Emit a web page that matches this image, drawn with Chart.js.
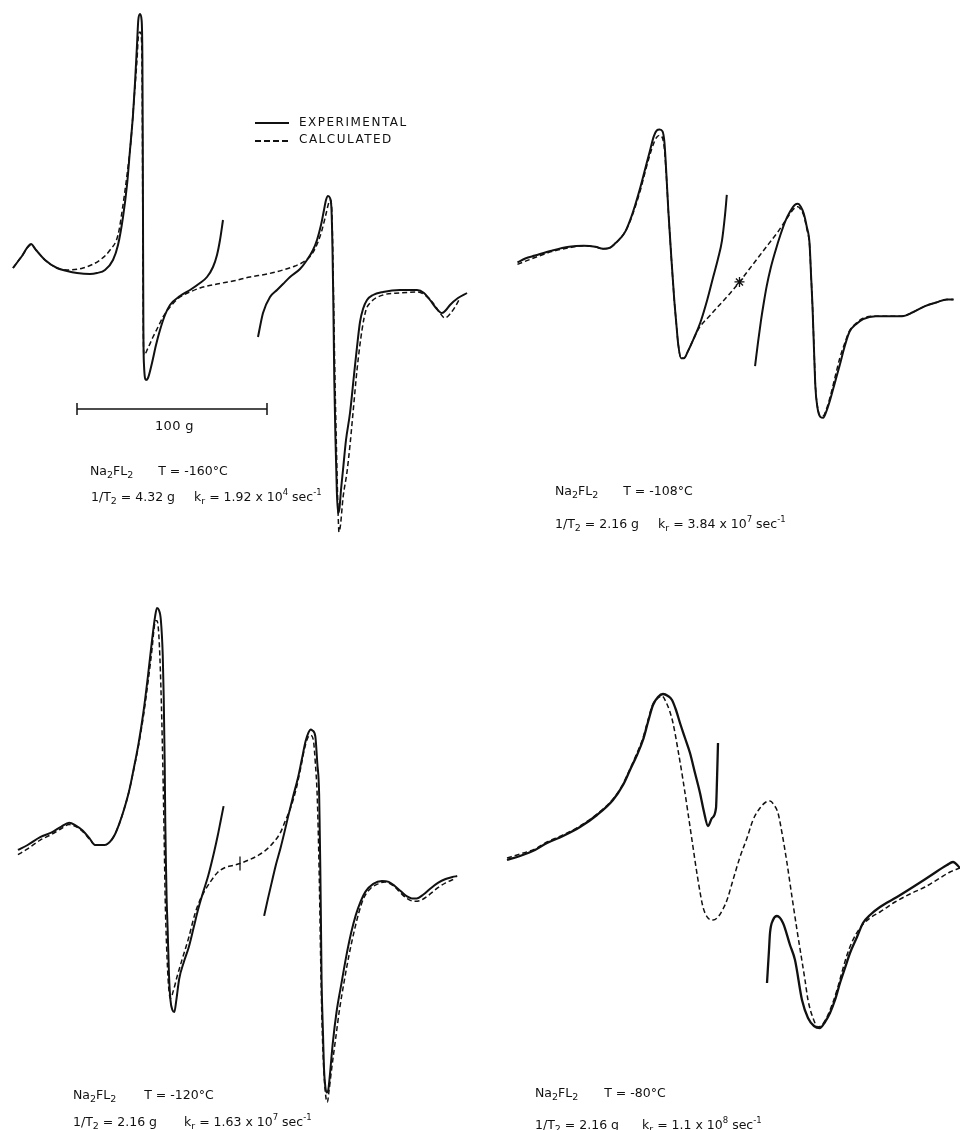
<!DOCTYPE html>
<html>
<head>
<meta charset="utf-8">
<script src="https://cdn.jsdelivr.net/npm/chart.js@4.4.0/dist/chart.umd.min.js"></script>
<style>
    body { margin: 0; background: #fff; }
    #page { position: relative; width: 960px; height: 1130px; overflow: hidden;
            font-family: "DejaVu Sans", sans-serif; color: #111; }
    canvas { position: absolute; }
    .lbl { position: absolute; font-size: 12.5px; line-height: 16px; white-space: nowrap; }
    .lbl sub { font-size: 9.5px; vertical-align: -3px; }
    .lbl sup { font-size: 8.5px; vertical-align: 6px; }
    .gap { display: inline-block; }
    .key { position: absolute; width: 34px; height: 2px; }
    .caps { font-size: 12px; letter-spacing: 1.5px; }
</style>
</head>
<body>
<div id="page">
    <canvas id="c1" width="480" height="560" style="left:0;top:0"></canvas>
    <canvas id="c2" width="480" height="560" style="left:480px;top:0"></canvas>
    <canvas id="c3" width="480" height="570" style="left:0;top:560px"></canvas>
    <canvas id="c4" width="480" height="570" style="left:480px;top:560px"></canvas>

    <!-- legend -->
    <div class="key" style="left:255px;top:122px;background:#111"></div>
    <div class="lbl caps" style="left:299px;top:114px">EXPERIMENTAL</div>
    <div class="key" style="left:255px;top:140px;background:repeating-linear-gradient(90deg,#111 0 6px,transparent 6px 9px)"></div>
    <div class="lbl caps" style="left:299px;top:131px">CALCULATED</div>

    <div class="lbl" style="left:155px;top:418px;font-size:13px;letter-spacing:0.3px">100 g</div>

    <div class="lbl" style="left:90px;top:463px">Na<sub>2</sub>FL<sub>2</sub><span class="gap" style="width:25px"></span>T = -160°C</div>
    <div class="lbl" style="left:91px;top:484px">1/T<sub>2</sub> = 4.32 g<span class="gap" style="width:19px"></span>k<sub>r</sub> = 1.92 x 10<sup>4</sup> sec<sup>-1</sup></div>

    <div class="lbl" style="left:555px;top:483px">Na<sub>2</sub>FL<sub>2</sub><span class="gap" style="width:25px"></span>T = -108°C</div>
    <div class="lbl" style="left:555px;top:511px">1/T<sub>2</sub> = 2.16 g<span class="gap" style="width:19px"></span>k<sub>r</sub> = 3.84 x 10<sup>7</sup> sec<sup>-1</sup></div>

    <div class="lbl" style="left:73px;top:1087px">Na<sub>2</sub>FL<sub>2</sub><span class="gap" style="width:28px"></span>T = -120°C</div>
    <div class="lbl" style="left:73px;top:1109px">1/T<sub>2</sub> = 2.16 g<span class="gap" style="width:27px"></span>k<sub>r</sub> = 1.63 x 10<sup>7</sup> sec<sup>-1</sup></div>

    <div class="lbl" style="left:535px;top:1085px">Na<sub>2</sub>FL<sub>2</sub><span class="gap" style="width:26px"></span>T = -80°C</div>
    <div class="lbl" style="left:535px;top:1112px">1/T<sub>2</sub> = 2.16 g<span class="gap" style="width:23px"></span>k<sub>r</sub> = 1.1 x 10<sup>8</sup> sec<sup>-1</sup></div>
</div>

<script>
// values: x = field position, y = signal (panel units)

// T = -160 C
const p1Exp1 = [[13,292],[22,304],[31,316],[36,310],[45,300],[57,292],[67,289],[77,287],[90,286],[97,287],
    [105,290],[113,300],[118,315],[123,343],[127,375],[130,410],[133,445],[135,477],[137,515],[138.3,540],
    [140,546],[141.6,540],[142.4,500],[142.8,410],[143.1,310],[143.4,230],[144,195],[146,180],[148,182],
    [152,197],[156,215],[160,230],[165,245],[170,255],[180,264],[190,270],[200,277],[207,283],[213,293],
    [217,305],[220,320],[223,340]];
const p1Exp2 = [[258,223],[263,247],[270,263],[277,270],[283,276],[290,283],[300,291],[307,300],[313,310],
    [317,320],[321,335],[324,350],[326,360],[328,364],[330,362],[331.5,350],[332.5,310],[333.3,260],
    [334.3,180],[335.5,120],[336.8,70],[338,47],[339.5,52],[341,70],[343,90],[346,120],[350,147],[354,185],
    [357,213],[360,238],[363,251],[367,260],[373,265],[383,268],[400,270],[417,270],[424,267],[430,260],
    [436,252],[442,247],[446,250],[450,255],[458,262],[467,267]];
const p1Calc = [[13,292],[22,304],[31,315],[36,310],[45,300],[57,292],[67,290],[83,292],[100,300],[110,310],
    [118,325],[123,355],[127,385],[131,420],[134,460],[137,500],[138.5,525],[140,528],[141.5,520],
    [142.2,470],[142.6,380],[143,290],[143.4,220],[144,205],[148,212],[153,223],[158,233],[163,243],
    [170,253],[180,263],[190,268],[200,272],[217,276],[233,279],[250,283],[267,286],[283,290],[295,294],
    [305,299],[312,306],[318,318],[322,330],[326,346],[329,358],[330.5,360],[331.7,352],[332.6,320],
    [333.6,260],[335,180],[336.5,110],[338,50],[339,28],[340.5,35],[343,62],[347,88],[350,115],[353,147],
    [357,190],[362,230],[366,250],[370,257],[383,265],[400,267],[417,268],[425,265],[433,257],[440,247],
    [445,242],[450,246],[455,253],[460,262]];
const p1ScaleBar = [[77,151],[267,151]];

// T = -108 C
const p2Exp1 = [[32,298],[40,302],[50,305],[67,310],[85,314],[100,315],[112,314],[120,312],[127,313],
    [133,318],[138,323],[143,330],[148,342],[153,357],[158,374],[163,393],[168,412],[172,427],[175,433],
    [178,434],[181,432],[183,420],[185,387],[187,350],[190,303],[193,260],[195,237],[197,215],[200,200],
    [203,200],[207,207],[213,220],[220,237],[227,260],[233,283],[238,302],[242,320],[245,345],[247,367]];
const p2Exp2 = [[276,192],[279,216],[282,238],[285,257],[288,274],[292,292],[297,310],[302,326],[307,340],
    [312,350],[317,357],[320,358],[323,355],[326,348],[329,335],[332,317],[333.5,285],[335,253],
    [336.5,210],[338,170],[340,150],[343,140],[346,139],[349,145],[353,157],[358,175],[363,193],[368,212],
    [373,227],[380,235],[387,240],[400,243],[415,243],[427,243],[438,247],[450,253],[462,257],[473,260],
    [480,260]];
const p2Calc = [[32,296],[50,303],[67,309],[85,313],[100,315],[112,314],[120,312],[127,313],[133,318],
    [138,323],[143,330],[148,341],[153,355],[158,371],[163,390],[168,408],[172,420],[175,426],[178,428],
    [181,425],[183,413],[185,385],[187,350],[190,303],[193,260],[195,237],[197,215],[200,200],[203,200],
    [207,207],[213,220],[218,230],[230,244],[240,255],[250,266],[260,278],[270,291],[280,304],[290,317],
    [300,330],[310,345],[317,354],[320,355],[323,352],[326,346],[329,333],[332,315],[333.5,285],[335,253],
    [336.5,212],[338,172],[340,151],[343,141],[346,141],[349,147],[353,160],[358,180],[363,200],[368,215],
    [373,228],[380,236],[387,241],[400,243],[415,243],[427,243],[438,247],[450,253],[462,257],[473,260],
    [480,260]];
const p2Mark = [[260,278]];

// T = -120 C
const p3Exp1 = [[10,280],[20,285],[33,293],[45,298],[55,304],[63,308],[70,305],[77,300],[84,292],[90,285],
    [100,285],[105,288],[110,295],[115,307],[120,322],[125,340],[130,364],[135,390],[140,422],[145,462],
    [149,497],[152,520],[154,529],[156,527],[158,517],[160,480],[161,437],[162,370],[162.6,310],
    [163.2,270],[164,230],[165,200],[166.5,150],[168,125],[170,115],[172,113],[174,125],[177,147],
    [182,165],[187,180],[192,200],[197,220],[202,237],[207,253],[213,277],[217,295],[220,310],[223,325]];
const p3Exp2 = [[265,212],[269,230],[273,247],[277,264],[282,282],[286,298],[290,315],[295,335],[300,354],
    [304,373],[308,392],[311,401],[313,404],[315,403],[318,397],[320,370],[322,337],[322.6,300],
    [323.2,260],[323.8,210],[324.5,147],[326,90],[327,55],[328.5,35],[330,30],[331.5,33],[333,47],
    [336,80],[340,113],[345,142],[350,170],[355,194],[360,213],[365,227],[370,237],[378,245],[387,248],
    [394,247],[400,243],[407,237],[413,232],[418,230],[423,230],[430,234],[437,240],[445,246],[453,250],
    [460,252],[465,253]];
const p3Calc = [[10,275],[20,281],[33,290],[45,296],[55,302],[63,306],[70,304],[77,299],[84,291],[90,285],
    [100,285],[105,288],[110,295],[115,307],[120,322],[125,340],[130,363],[135,388],[140,418],[145,455],
    [149,488],[151,508],[152.5,516],[154,516],[156,500],[158,450],[160,370],[161.5,290],[162.5,230],
    [164,180],[166,140],[168,127],[171,135],[175,150],[180,167],[187,190],[193,213],[198,227],[203,237],
    [210,248],[217,257],[225,262],[233,264],[240,266],[250,270],[260,275],[267,280],[275,288],[282,298],
    [287,310],[293,325],[298,342],[303,365],[307,385],[310,395],[313,398],[316,393],[318,370],[320,335],
    [321.5,280],[322.5,230],[323.5,170],[325,100],[327,50],[329,25],[330.5,20],[332,30],[335,55],[339,85],
    [343,115],[348,145],[353,172],[358,195],[363,215],[368,230],[375,240],[383,245],[390,247],[400,242],
    [407,235],[413,230],[420,227],[427,228],[435,233],[445,241],[453,246],[462,250]];
const p3Mark = [[240,266]];

// T = -80 C
const p4Exp1 = [[27,270],[40,274],[55,280],[67,287],[83,294],[100,303],[117,315],[133,330],[143,345],
    [150,360],[157,375],[163,390],[168,408],[173,425],[178,433],[183,436],[188,434],[192,430],[196,420],
    [200,407],[205,392],[210,377],[215,357],[220,337],[224,318],[228,304],[232,312],[236,322],[237,350],
    [238,387]];
const p4Exp2 = [[287,147],[289,180],[290,197],[293,210],[297,214],[303,207],[310,185],[315,170],[322,130],
    [328,112],[334,104],[340,102],[345,108],[350,117],[355,130],[360,147],[365,162],[370,177],[377,193],
    [383,207],[390,215],[400,223],[417,233],[433,243],[450,254],[467,265],[473,268],[480,262]];
const p4Calc = [[27,272],[40,276],[55,281],[67,288],[83,295],[100,304],[117,316],[133,331],[143,346],
    [150,361],[157,377],[163,392],[168,410],[173,426],[178,432],[182,434],[186,428],[190,418],[193,407],
    [198,380],[203,350],[208,317],[213,283],[218,250],[223,223],[228,212],[233,210],[238,213],[243,221],
    [247,230],[253,250],[260,273],[267,292],[273,310],[280,322],[286,328],[290,329],[294,325],[298,317],
    [302,297],[307,267],[312,233],[317,200],[321,175],[325,150],[328,130],[333,112],[338,103],[342,105],
    [347,113],[352,125],[357,140],[362,158],[367,175],[372,188],[380,202],[390,212],[400,218],[415,228],
    [430,236],[445,243],[460,252],[470,258],[480,262]];

const ink = "#111";
const toXY = pts => pts.map(p => ({x: p[0], y: p[1]}));

function expLine(pts, w) {
    return {data: toXY(pts), borderColor: ink, borderWidth: w || 2, pointRadius: 0,
            cubicInterpolationMode: "monotone", fill: false};
}
function calcLine(pts) {
    return {data: toXY(pts), borderColor: ink, borderWidth: 1.5, borderDash: [5, 3], pointRadius: 0,
            cubicInterpolationMode: "monotone", fill: false};
}
function straight(pts, w) {
    return {data: toXY(pts), borderColor: ink, borderWidth: w, pointRadius: 0, tension: 0, fill: false};
}
function marker(pts, style, r, rot) {
    return {data: toXY(pts), showLine: false, pointStyle: style, pointRadius: r, pointRotation: rot || 0,
            pointBorderColor: ink, pointBorderWidth: 1.3, pointBackgroundColor: ink};
}

function spectrum(id, h, datasets) {
    new Chart(document.getElementById(id), {
        type: "line",
        data: {datasets: datasets},
        options: {
            responsive: false,
            animation: false,
            events: [],
            layout: {padding: 0},
            plugins: {legend: {display: false}, tooltip: {enabled: false}},
            scales: {
                x: {type: "linear", display: false, min: 0, max: 480},
                y: {type: "linear", display: false, min: 0, max: h}
            }
        }
    });
}

// scale bar end ticks
const barL = p1ScaleBar[0], barR = p1ScaleBar[1];

spectrum("c1", 560, [
    expLine(p1Exp1), expLine(p1Exp2), calcLine(p1Calc),
    straight(p1ScaleBar, 1.5),
    straight([[barL[0], barL[1] - 6], [barL[0], barL[1] + 6]], 1.5),
    straight([[barR[0], barR[1] - 6], [barR[0], barR[1] + 6]], 1.5)
]);
spectrum("c2", 560, [expLine(p2Exp1), expLine(p2Exp2), calcLine(p2Calc), marker(p2Mark, "star", 5)]);
spectrum("c3", 570, [expLine(p3Exp1), expLine(p3Exp2), calcLine(p3Calc), marker(p3Mark, "line", 7, 90)]);
spectrum("c4", 570, [expLine(p4Exp1, 2.3), expLine(p4Exp2, 2.3), calcLine(p4Calc)]);
</script>
</body>
</html>
